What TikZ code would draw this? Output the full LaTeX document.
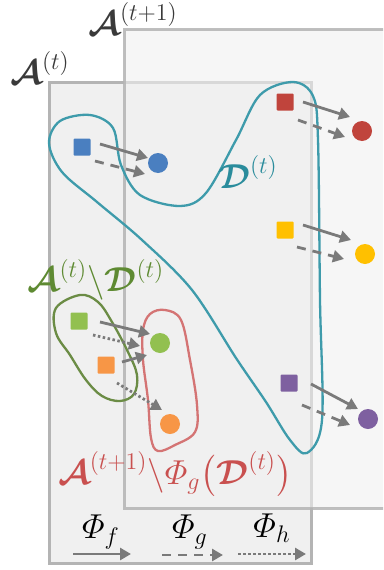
\documentclass[tikz,border=0pt]{standalone}
\usepackage{amsmath,bm}
\usetikzlibrary{arrows.meta,calc}
\definecolor{boxline}{HTML}{B4B4B4}
\definecolor{boxfill}{HTML}{F0F0F0}
\definecolor{tealc}{HTML}{3E9BAB}
\definecolor{tealt}{HTML}{2A8C9C}
\definecolor{olivec}{HTML}{6B8C45}
\definecolor{olivet}{HTML}{5E8A32}
\definecolor{salmonc}{HTML}{D47474}
\definecolor{redt}{HTML}{C9504F}
\definecolor{cblue}{HTML}{4A7FC0}
\definecolor{cred}{HTML}{C0443C}
\definecolor{cyellow}{HTML}{FFC000}
\definecolor{cgreen}{HTML}{92C050}
\definecolor{corange}{HTML}{F79646}
\definecolor{cpurple}{HTML}{7E60A0}
\definecolor{arrgray}{HTML}{7A7A7A}
\definecolor{labgray}{HTML}{3A3A3A}
\tikzset{
  setbox/.style={draw=boxline, fill=boxfill, line width=3pt},
  sq/.style={rectangle, minimum size=17pt, inner sep=0pt, rounded corners=1pt},
  cir/.style={circle, minimum size=20pt, inner sep=0pt},
  arr/.style={draw=arrgray, line width=2.8pt, -{Triangle[length=11pt,width=12pt]}},
  farr/.style={arr},
  garr/.style={arr, dash pattern=on 9pt off 7pt},
  harr/.style={arr, dash pattern=on 2.5pt off 2.5pt},
  curve/.style={line width=2.3pt},
  lab/.style={inner sep=0pt, scale=2, font=\fontsize{17}{20}\selectfont}
}
\begin{document}
\begin{tikzpicture}[x=1pt,y=-1pt]
\useasboundingbox (0,0) rectangle (383,570);
\clip (0,0) rectangle (383,570);
% sets
\draw[setbox] (49,82) rectangle (311,563);
\draw[setbox, fill opacity=0.6, draw opacity=0.85] (124,29) rectangle (400,508);
% labels of sets
\node[lab, text=labgray] (lAt) at (40,68) {$\boldsymbol{\mathcal{A}}^{(t)}$};
\node[lab, text=labgray] (lAt1) at (133,19) {$\boldsymbol{\mathcal{A}}^{(t+1)}$};
% curves
\draw[curve, draw=tealc] plot[smooth cycle, tension=0.55] coordinates {
  (90,115) (113,128) (121,165) (140,195) (180,206) (206,193) (236,140)
  (260,95) (293,82) (313,96) (318,140) (320,300) (322,420) (307,453)
  (290,440) (266,402) (236,358) (192,290) (142,240) (97,202) (62,172)
  (49,143) (60,121)};
\draw[curve, draw=olivec] plot[smooth cycle, tension=0.6] coordinates {
  (80,295) (98,302) (112,322) (128,352) (137,375) (134,394) (120,401)
  (102,396) (86,380) (70,355) (56,333) (56,308)};
\draw[curve, draw=salmonc] plot[smooth cycle, tension=0.6] coordinates {
  (165,310) (181,320) (190,360) (197,405) (195,432) (175,445) (158,451)
  (151,438) (148,400) (143,360) (143,330) (150,314)};
\node[lab, text=tealt] (lD) at (248,172) {$\boldsymbol{\mathcal{D}}^{(t)}$};
\node[lab, text=olivet] (lAD) at (96,280) {$\boldsymbol{\mathcal{A}}^{(t)}\backslash\boldsymbol{\mathcal{D}}^{(t)}$};
\node[lab, text=redt] (lAPD) at (175,474) {$\boldsymbol{\mathcal{A}}^{(t+1)}\backslash\varPhi_{g}\bigl(\boldsymbol{\mathcal{D}}^{(t)}\bigr)$};
% elements
\node[sq, fill=cblue] (bs) at (82,147) {};
\node[cir, fill=cblue] (bc) at (158,163) {};
\node[sq, fill=cred] (rs) at (285,102) {};
\node[cir, fill=cred] (rc) at (362,131) {};
\node[sq, fill=cyellow] (ys) at (285,230) {};
\node[cir, fill=cyellow] (yc) at (365,254) {};
\node[sq, fill=cpurple] (ps) at (289,383) {};
\node[cir, fill=cpurple] (pc) at (368,419) {};
\node[sq, fill=cgreen] (gs) at (79,321) {};
\node[cir, fill=cgreen] (gc) at (160,343) {};
\node[sq, fill=corange] (os) at (106,365) {};
\node[cir, fill=corange] (oc) at (170,424) {};
% mappings
\draw[farr] ($(bs)+(18,-3)$) -- ($(bc)+(-10,-5)$);
\draw[garr] ($(bs)+(13,14)$) -- ($(bc)+(-13,11)$);
\draw[farr] ($(rs)+(18,0)$) -- ($(rc)+(-12,-14)$);
\draw[garr] ($(rs)+(13,18)$) -- ($(rc)+(-17,6)$);
\draw[farr] ($(ys)+(18,-5)$) -- ($(yc)+(-14,-14)$);
\draw[garr] ($(ys)+(12,17)$) -- ($(yc)+(-21,5)$);
\draw[farr] ($(ps)+(22,1)$) -- ($(pc)+(-10,-10)$);
\draw[garr] ($(ps)+(13,22)$) -- ($(pc)+(-18,6)$);
\draw[farr] ($(gs)+(21,1)$) -- ($(gc)+(-10,-9)$);
\draw[harr] ($(gs)+(14,14)$) -- ($(gc)+(-20,3)$);
\draw[farr] ($(os)+(16,-3)$) -- ($(gc)+(-13,12)$);
\draw[harr] ($(os)+(11,18)$) -- ($(oc)+(-8,-14)$);
% legend
\node[lab, text=black] (lf) at (101,532) {$\varPhi_{f}$};
\node[lab, text=black] (lg) at (190,532) {$\varPhi_{g}$};
\node[lab, text=black] (lh) at (272,528) {$\varPhi_{h}$};
\coordinate (f1) at (73,554); \coordinate (f2) at (131,554);
\coordinate (g1) at (162,555); \coordinate (g2) at (223,555);
\coordinate (h1) at (238,554); \coordinate (h2) at (306,554);
\draw[farr] (f1) -- (f2);
\draw[garr] (g1) -- (g2);
\draw[harr] (h1) -- (h2);
\end{tikzpicture}
\end{document}
